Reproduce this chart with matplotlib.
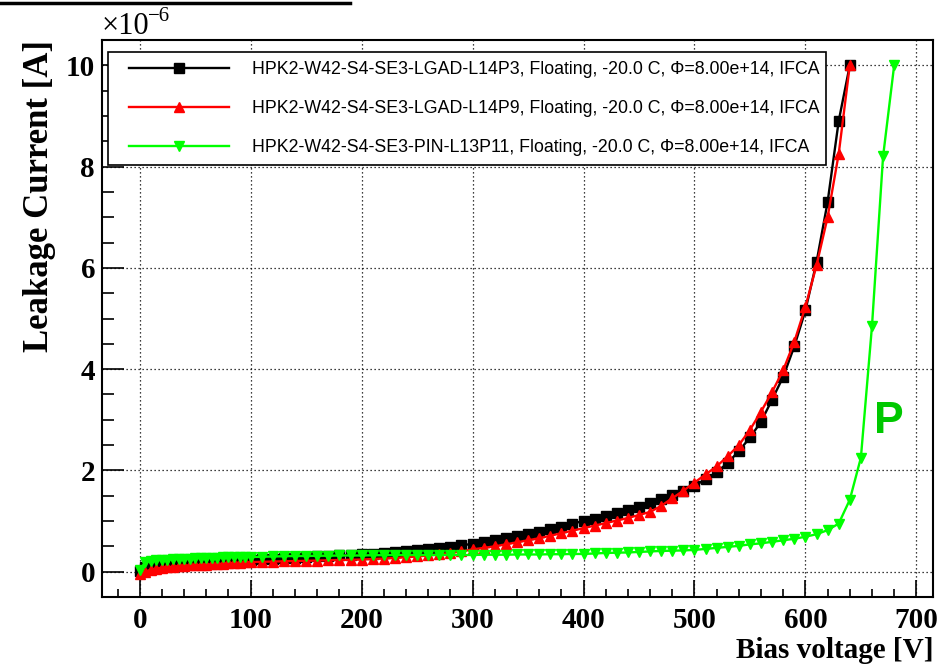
import matplotlib.pyplot as plt
from matplotlib.lines import Line2D
from matplotlib.patches import Rectangle
from matplotlib.ticker import MultipleLocator

# bias voltage [V]
volt_lgad = [0, 5, 10, 15, 20, 25, 30, 35, 40, 45, 50, 55, 60, 65, 70, 75, 80, 85, 90, 95, 100,
             110, 120, 130, 140, 150, 160, 170, 180, 190, 200, 210, 220, 230, 240, 250, 260, 270, 280, 290, 300,
             310, 320, 330, 340, 350, 360, 370, 380, 390, 400, 410, 420, 430, 440, 450, 460,
             470, 480, 490, 500, 510, 520, 530, 540, 550, 560, 570, 580, 590, 600, 610, 620, 630, 640]
volt_pin = [0, 5, 10, 15, 20, 25, 30, 35, 40, 45, 50, 55, 60, 65, 70, 75, 80, 85, 90, 95, 100,
            110, 120, 130, 140, 150, 160, 170, 180, 190, 200, 210, 220, 230, 240, 250, 260, 270, 280, 290, 300,
            310, 320, 330, 340, 350, 360, 370, 380, 390, 400, 410, 420, 430, 440, 450, 460, 470, 480, 490, 500,
            510, 520, 530, 540, 550, 560, 570, 580, 590, 600, 610, 620, 630, 640, 650, 660, 670, 680]

# leakage current in units of 1e-6 A
leak_l14p3 = [0.02, 0.10, 0.13, 0.15, 0.16, 0.17, 0.18, 0.185, 0.19, 0.195, 0.20, 0.205, 0.21, 0.215, 0.22,
              0.225, 0.23, 0.232, 0.235, 0.238, 0.24,
              0.25, 0.26, 0.27, 0.28, 0.29, 0.30, 0.31, 0.32, 0.33, 0.34, 0.35, 0.37, 0.38, 0.40, 0.42,
              0.44, 0.46, 0.49, 0.52, 0.55,
              0.58, 0.62, 0.66, 0.70, 0.74, 0.79, 0.84, 0.89, 0.95, 1.00, 1.05, 1.10, 1.15, 1.21, 1.27, 1.35,
              1.43, 1.52, 1.60, 1.69, 1.83, 1.96, 2.15, 2.38, 2.65, 2.96, 3.40, 3.85, 4.45, 5.16, 6.11,
              7.30, 8.90, 10.0]
leak_l14p9 = [-0.05, 0.0, 0.04, 0.06, 0.08, 0.09, 0.10, 0.11, 0.12, 0.125, 0.13, 0.135, 0.14, 0.145, 0.15,
              0.16, 0.17, 0.175, 0.18, 0.185, 0.19,
              0.195, 0.20, 0.205, 0.21, 0.215, 0.22, 0.225, 0.23, 0.235, 0.24, 0.25, 0.26, 0.27, 0.285, 0.30,
              0.32, 0.34, 0.37, 0.40, 0.44,
              0.47, 0.50, 0.54, 0.58, 0.62, 0.66, 0.71, 0.76, 0.81, 0.86, 0.91, 0.96, 1.01, 1.06, 1.12, 1.18,
              1.30, 1.45, 1.60, 1.76, 1.92, 2.08, 2.28, 2.50, 2.80, 3.16, 3.55, 3.98, 4.54, 5.23, 6.05,
              7.00, 8.25, 10.0]
leak_l13p11 = [0.03, 0.19, 0.21, 0.225, 0.235, 0.24, 0.245, 0.25, 0.255, 0.26, 0.265, 0.27, 0.275, 0.277,
               0.28, 0.282, 0.284, 0.286, 0.288, 0.289, 0.29,
               0.295, 0.30, 0.305, 0.31, 0.31, 0.315, 0.315, 0.32, 0.32, 0.32,
               0.325, 0.325, 0.33, 0.33, 0.33, 0.33, 0.33, 0.33, 0.33, 0.33,
               0.335, 0.335, 0.335, 0.34, 0.34, 0.34, 0.345, 0.345, 0.35, 0.35,
               0.36, 0.37, 0.375, 0.38, 0.39, 0.40, 0.41, 0.415, 0.42, 0.43,
               0.45, 0.47, 0.49, 0.51, 0.54, 0.56, 0.59, 0.62, 0.65, 0.69,
               0.74, 0.82, 0.95, 1.42, 2.25, 4.85, 8.20, 10.0]

labels = ['HPK2-W42-S4-SE3-LGAD-L14P3, Floating, -20.0 C, \u03a6=8.00e+14, IFCA',
          'HPK2-W42-S4-SE3-LGAD-L14P9, Floating, -20.0 C, \u03a6=8.00e+14, IFCA',
          'HPK2-W42-S4-SE3-PIN-L13P11, Floating, -20.0 C, \u03a6=8.00e+14, IFCA']

serif = 'Liberation Serif'
W, H = 952, 664

fig = plt.figure(figsize=(9.52, 6.64), dpi=100)
ax = fig.add_axes([102/W, 67/H, 831/W, 557/H])

ax.plot(volt_lgad, leak_l14p3, color='black', marker='s', ms=6.8, lw=1.7, label=labels[0])
ax.plot(volt_lgad, leak_l14p9, color='#ff0000', marker='^', ms=7.2, lw=1.7, label=labels[1])
ax.plot(volt_pin, leak_l13p11, color='#00ff00', marker='v', ms=7.2, lw=1.7, label=labels[2])

ax.set_xlim(-34, 715)
ax.set_ylim(-0.5, 10.5)
ax.xaxis.set_major_locator(MultipleLocator(100))
ax.xaxis.set_minor_locator(MultipleLocator(20))
ax.yaxis.set_major_locator(MultipleLocator(2))
ax.yaxis.set_minor_locator(MultipleLocator(0.5))
ax.grid(True, which='major', color='black', linestyle=(0, (1, 2.2)), lw=0.9)

ax.tick_params(axis='x', which='major', direction='in', length=12, width=1.2, pad=7)
ax.tick_params(axis='x', which='minor', direction='in', length=6, width=1.2)
ax.tick_params(axis='y', which='major', direction='in', length=16, width=1.2, pad=5)
ax.tick_params(axis='y', which='minor', direction='in', length=8.5, width=1.2)
for s in ax.spines.values():
    s.set_linewidth(1.5)
for lab in ax.get_xticklabels() + ax.get_yticklabels():
    lab.set_fontfamily(serif)
    lab.set_fontweight('bold')
    lab.set_fontsize(21)

ax.set_xlabel('Bias voltage [V]', loc='right', fontfamily=serif, fontweight='bold', fontsize=21, labelpad=2)
ax.set_ylabel('Leakage Current [A]', loc='top', fontfamily=serif, fontweight='bold', fontsize=25, labelpad=7)

fig.text(102/W, 1 - 34/H, '\u00d710', fontfamily=serif, fontsize=22, ha='left', va='baseline')
fig.text(148/W, 1 - 21/H, '\u22126', fontfamily=serif, fontsize=15, ha='left', va='baseline')

# legend box drawn separately so its padding can match
fig.add_artist(Rectangle((108/W, 1 - 165/H), 718/W, 113/H, transform=fig.transFigure,
                         facecolor='white', edgecolor='black', lw=1.2, zorder=4))
leg = fig.legend(*ax.get_legend_handles_labels(), loc='upper left', bbox_to_anchor=(129/W, 1 - 61/H),
                 prop={'family': 'Liberation Sans', 'size': 12.8},
                 handlelength=5.6, handletextpad=1.3, numpoints=1, labelspacing=1.24, borderpad=0,
                 borderaxespad=0, frameon=False)
leg.set_zorder(5)

ax.text(675, 2.97, 'P', color='#00c800', fontsize=32, fontweight='bold', fontfamily='Liberation Sans',
        ha='center', va='center')

fig.add_artist(Line2D([0, 350/W], [1 - 3/H, 1 - 3/H], color='black', lw=2.5))

fig.savefig('out.png', dpi=100)
